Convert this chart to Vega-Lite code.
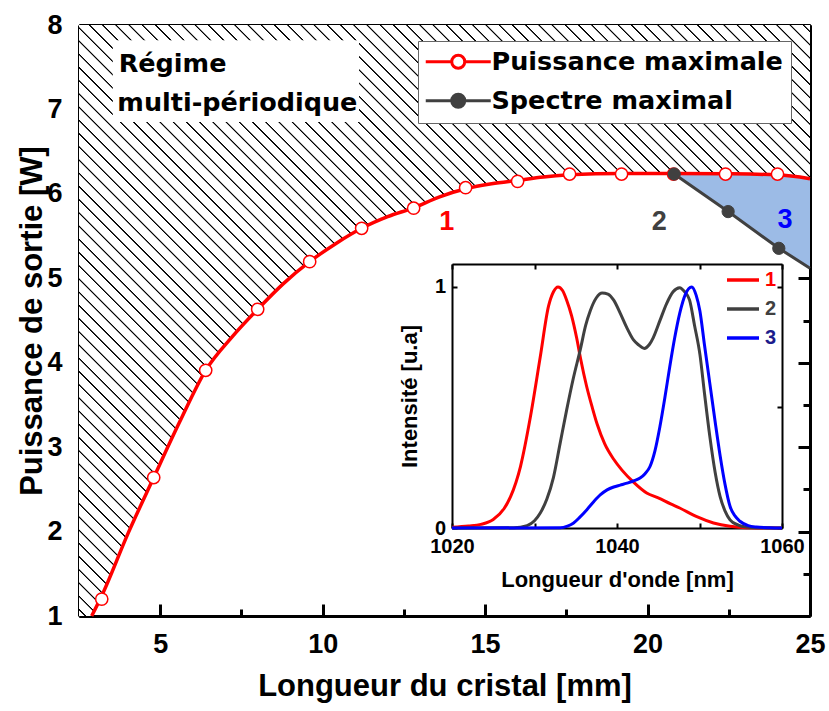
{
"$schema": "https://vega.github.io/schema/vega-lite/v6.json",
"width": 731, "height": 591,
"autosize": {"type": "none"},
"padding": {"left": 79, "top": 25, "right": 19, "bottom": 95},
"background": "white",
"config": {
  "view": {"stroke": null},
  "axis": {"domainColor": "#000", "tickColor": "#000", "labelColor": "#000", "titleColor": "#000", "grid": false, "labelFont": "Liberation Sans", "labelFontWeight": "bold", "titleFont": "Liberation Sans", "titleFontWeight": "bold", "labelFlush": false, "labelOverlap": false, "zindex": 1}
},
"datasets": {
  "hatch": [{"x":2.5,"y":1},{"x":2.89,"y":1.0},{"x":3.2,"y":1.24},{"x":4.0,"y":1.97},{"x":4.8,"y":2.64},{"x":5.6,"y":3.3},{"x":6.4,"y":3.91},{"x":7.2,"y":4.3},{"x":8.0,"y":4.633},{"x":8.8,"y":4.94},{"x":9.6,"y":5.197},{"x":10.4,"y":5.41},{"x":11.2,"y":5.592},{"x":12.0,"y":5.73},{"x":12.8,"y":5.835},{"x":13.6,"y":5.965},{"x":14.4,"y":6.06},{"x":15.2,"y":6.12},{"x":16.0,"y":6.16},{"x":16.8,"y":6.2},{"x":17.6,"y":6.225},{"x":18.4,"y":6.238},{"x":19.2,"y":6.242},{"x":20.8,"y":6.242},{"x":22.4,"y":6.238},{"x":24.0,"y":6.225},{"x":25.0,"y":6.18}],
  "curve": [{"x":2.89,"y":1.0,"series":"Puissance maximale"},{"x":3.2,"y":1.24,"series":"Puissance maximale"},{"x":4.0,"y":1.97,"series":"Puissance maximale"},{"x":4.8,"y":2.64,"series":"Puissance maximale"},{"x":5.6,"y":3.3,"series":"Puissance maximale"},{"x":6.4,"y":3.91,"series":"Puissance maximale"},{"x":7.2,"y":4.3,"series":"Puissance maximale"},{"x":8.0,"y":4.633,"series":"Puissance maximale"},{"x":8.8,"y":4.94,"series":"Puissance maximale"},{"x":9.6,"y":5.197,"series":"Puissance maximale"},{"x":10.4,"y":5.41,"series":"Puissance maximale"},{"x":11.2,"y":5.592,"series":"Puissance maximale"},{"x":12.0,"y":5.73,"series":"Puissance maximale"},{"x":12.8,"y":5.835,"series":"Puissance maximale"},{"x":13.6,"y":5.965,"series":"Puissance maximale"},{"x":14.4,"y":6.06,"series":"Puissance maximale"},{"x":15.2,"y":6.12,"series":"Puissance maximale"},{"x":16.0,"y":6.16,"series":"Puissance maximale"},{"x":16.8,"y":6.2,"series":"Puissance maximale"},{"x":17.6,"y":6.225,"series":"Puissance maximale"},{"x":18.4,"y":6.238,"series":"Puissance maximale"},{"x":19.2,"y":6.242,"series":"Puissance maximale"},{"x":20.8,"y":6.242,"series":"Puissance maximale"},{"x":22.4,"y":6.238,"series":"Puissance maximale"},{"x":24.0,"y":6.225,"series":"Puissance maximale"},{"x":25.0,"y":6.18,"series":"Puissance maximale"}],
  "pts": [{"x":3.2,"y":1.2},{"x":4.8,"y":2.64},{"x":6.4,"y":3.91},{"x":8.0,"y":4.633},{"x":9.6,"y":5.197},{"x":11.2,"y":5.592},{"x":12.8,"y":5.83},{"x":14.4,"y":6.073},{"x":16.0,"y":6.148},{"x":17.6,"y":6.235},{"x":19.2,"y":6.235},{"x":20.8,"y":6.235},{"x":22.4,"y":6.235},{"x":24.0,"y":6.235}],
  "gray": [{"x":20.82,"y":6.235,"series":"Spectre maximal"},{"x":22.48,"y":5.79,"series":"Spectre maximal"},{"x":24.04,"y":5.355,"series":"Spectre maximal"},{"x":25.0,"y":5.12,"series":"Spectre maximal"}],
  "blue": [{"x":20.82,"y":6.235,"y2":6.24},{"x":22.48,"y":5.79,"y2":6.238},{"x":24.04,"y":5.355,"y2":6.225},{"x":25.0,"y":5.12,"y2":6.18}],
  "box": [{"x":3.54,"x2":11.12,"y":6.85,"y2":7.82}],
  "notes": [{"label":"Régime","x":3.72,"y":7.447},{"label":"multi-périodique","x":3.68,"y":6.98}],
  "nums": [{"label":"1","x":13.82,"y":5.67},{"label":"2","x":20.36,"y":5.67},{"label":"3","x":24.23,"y":5.69}],
  "anchor": [{"x":10,"y":5}],
  "anchor2": [{"wl":1040,"I":0.5}],
  "spec": [
    {"wl":1020,"I":0.003,"curve":"1"},{"wl":1022,"I":0.008,"curve":"1"},{"wl":1023.5,"I":0.015,"curve":"1"},{"wl":1025,"I":0.035,"curve":"1"},{"wl":1026.3,"I":0.08,"curve":"1"},{"wl":1027.1,"I":0.13,"curve":"1"},{"wl":1028.3,"I":0.255,"curve":"1"},{"wl":1029.5,"I":0.46,"curve":"1"},{"wl":1030.7,"I":0.71,"curve":"1"},{"wl":1031.7,"I":0.92,"curve":"1"},{"wl":1032.3,"I":0.98,"curve":"1"},{"wl":1032.85,"I":1.0,"curve":"1"},{"wl":1033.4,"I":0.985,"curve":"1"},{"wl":1033.9,"I":0.945,"curve":"1"},{"wl":1034.5,"I":0.88,"curve":"1"},{"wl":1035.1,"I":0.79,"curve":"1"},{"wl":1035.6,"I":0.7,"curve":"1"},{"wl":1036.3,"I":0.59,"curve":"1"},{"wl":1037.0,"I":0.5,"curve":"1"},{"wl":1037.6,"I":0.43,"curve":"1"},{"wl":1038.5,"I":0.35,"curve":"1"},{"wl":1039.6,"I":0.285,"curve":"1"},{"wl":1040.6,"I":0.24,"curve":"1"},{"wl":1042.0,"I":0.19,"curve":"1"},{"wl":1043.6,"I":0.145,"curve":"1"},{"wl":1045.0,"I":0.125,"curve":"1"},{"wl":1046.5,"I":0.1,"curve":"1"},{"wl":1047.6,"I":0.083,"curve":"1"},{"wl":1049.6,"I":0.048,"curve":"1"},{"wl":1051.7,"I":0.021,"curve":"1"},{"wl":1053.7,"I":0.007,"curve":"1"},{"wl":1055.7,"I":0.001,"curve":"1"},{"wl":1060,"I":0,"curve":"1"},
    {"wl":1020,"I":0,"curve":"2"},{"wl":1027.5,"I":0.001,"curve":"2"},{"wl":1029.1,"I":0.01,"curve":"2"},{"wl":1030,"I":0.03,"curve":"2"},{"wl":1030.7,"I":0.062,"curve":"2"},{"wl":1031.5,"I":0.12,"curve":"2"},{"wl":1032.3,"I":0.21,"curve":"2"},{"wl":1033.1,"I":0.35,"curve":"2"},{"wl":1033.9,"I":0.49,"curve":"2"},{"wl":1034.7,"I":0.62,"curve":"2"},{"wl":1035.55,"I":0.74,"curve":"2"},{"wl":1036.2,"I":0.84,"curve":"2"},{"wl":1036.75,"I":0.9,"curve":"2"},{"wl":1037.5,"I":0.955,"curve":"2"},{"wl":1038.2,"I":0.975,"curve":"2"},{"wl":1038.9,"I":0.97,"curve":"2"},{"wl":1039.6,"I":0.945,"curve":"2"},{"wl":1040.4,"I":0.89,"curve":"2"},{"wl":1041.2,"I":0.83,"curve":"2"},{"wl":1042.0,"I":0.78,"curve":"2"},{"wl":1042.6,"I":0.76,"curve":"2"},{"wl":1043.3,"I":0.745,"curve":"2"},{"wl":1043.9,"I":0.76,"curve":"2"},{"wl":1044.4,"I":0.79,"curve":"2"},{"wl":1045.2,"I":0.86,"curve":"2"},{"wl":1046.0,"I":0.93,"curve":"2"},{"wl":1046.8,"I":0.98,"curve":"2"},{"wl":1047.6,"I":0.997,"curve":"2"},{"wl":1048.2,"I":0.98,"curve":"2"},{"wl":1048.8,"I":0.945,"curve":"2"},{"wl":1049.4,"I":0.84,"curve":"2"},{"wl":1050.05,"I":0.72,"curve":"2"},{"wl":1050.6,"I":0.56,"curve":"2"},{"wl":1051.25,"I":0.38,"curve":"2"},{"wl":1051.9,"I":0.23,"curve":"2"},{"wl":1052.5,"I":0.13,"curve":"2"},{"wl":1053.1,"I":0.07,"curve":"2"},{"wl":1053.7,"I":0.034,"curve":"2"},{"wl":1054.7,"I":0.012,"curve":"2"},{"wl":1055.7,"I":0.004,"curve":"2"},{"wl":1057,"I":0.001,"curve":"2"},{"wl":1060,"I":0,"curve":"2"},
    {"wl":1020,"I":0,"curve":"3"},{"wl":1033.1,"I":0.001,"curve":"3"},{"wl":1034,"I":0.008,"curve":"3"},{"wl":1034.7,"I":0.02,"curve":"3"},{"wl":1035.5,"I":0.045,"curve":"3"},{"wl":1036.35,"I":0.076,"curve":"3"},{"wl":1037.2,"I":0.11,"curve":"3"},{"wl":1038.0,"I":0.138,"curve":"3"},{"wl":1038.8,"I":0.158,"curve":"3"},{"wl":1039.6,"I":0.17,"curve":"3"},{"wl":1040.4,"I":0.178,"curve":"3"},{"wl":1041.2,"I":0.186,"curve":"3"},{"wl":1042.0,"I":0.195,"curve":"3"},{"wl":1042.8,"I":0.207,"curve":"3"},{"wl":1043.4,"I":0.225,"curve":"3"},{"wl":1044.0,"I":0.255,"curve":"3"},{"wl":1044.6,"I":0.32,"curve":"3"},{"wl":1045.2,"I":0.42,"curve":"3"},{"wl":1045.8,"I":0.54,"curve":"3"},{"wl":1046.4,"I":0.67,"curve":"3"},{"wl":1047.0,"I":0.79,"curve":"3"},{"wl":1047.6,"I":0.89,"curve":"3"},{"wl":1048.3,"I":0.97,"curve":"3"},{"wl":1049.05,"I":1.0,"curve":"3"},{"wl":1049.6,"I":0.965,"curve":"3"},{"wl":1050.05,"I":0.9,"curve":"3"},{"wl":1050.6,"I":0.76,"curve":"3"},{"wl":1051.25,"I":0.6,"curve":"3"},{"wl":1051.9,"I":0.44,"curve":"3"},{"wl":1052.5,"I":0.3,"curve":"3"},{"wl":1053.1,"I":0.18,"curve":"3"},{"wl":1053.7,"I":0.09,"curve":"3"},{"wl":1054.3,"I":0.05,"curve":"3"},{"wl":1054.9,"I":0.028,"curve":"3"},{"wl":1055.9,"I":0.01,"curve":"3"},{"wl":1056.9,"I":0.004,"curve":"3"},{"wl":1058.5,"I":0.001,"curve":"3"},{"wl":1060,"I":0,"curve":"3"}
  ]
},
"layer": [
  {
    "encoding": {
      "x": {"field": "x", "type": "quantitative", "scale": {"domain": [2.5, 25], "nice": false, "zero": false},
        "axis": {"orient": "bottom", "title": "Longueur du cristal [mm]", "values": [5,10,15,20,25], "format": "d", "tickSize": -12, "tickWidth": 3, "domainWidth": 3, "labelFontSize": 27, "labelPadding": 27, "titleFontSize": 31, "titlePadding": 14}},
      "y": {"field": "y", "type": "quantitative", "scale": {"domain": [1, 8], "nice": false, "zero": false},
        "axis": {"orient": "left", "title": "Puissance de sortie [W]", "values": [1,2,3,4,5,6,7,8], "format": "d", "tickSize": -12, "tickWidth": 3, "domainWidth": 3, "labelFontSize": 27, "labelPadding": 29, "titleFontSize": 31, "titlePadding": -2}}
    },
    "layer": [
      {"data": {"name": "hatch"},
       "mark": {"type": "area", "fill": {"gradient": "linear", "x1": 0, "y1": 1, "x2": 1.0936, "y2": 0.1158, "stops": [
{"offset":0.004,"color":"#fff"},{"offset":0.0046,"color":"#000"},{"offset":0.0053,"color":"#000"},{"offset":0.0059,"color":"#fff"},
{"offset":0.014,"color":"#fff"},{"offset":0.0146,"color":"#000"},{"offset":0.0153,"color":"#000"},{"offset":0.0159,"color":"#fff"},
{"offset":0.024,"color":"#fff"},{"offset":0.0246,"color":"#000"},{"offset":0.0253,"color":"#000"},{"offset":0.0259,"color":"#fff"},
{"offset":0.034,"color":"#fff"},{"offset":0.0346,"color":"#000"},{"offset":0.0353,"color":"#000"},{"offset":0.0359,"color":"#fff"},
{"offset":0.044,"color":"#fff"},{"offset":0.0446,"color":"#000"},{"offset":0.0453,"color":"#000"},{"offset":0.0459,"color":"#fff"},
{"offset":0.054,"color":"#fff"},{"offset":0.0546,"color":"#000"},{"offset":0.0553,"color":"#000"},{"offset":0.0559,"color":"#fff"},
{"offset":0.064,"color":"#fff"},{"offset":0.0646,"color":"#000"},{"offset":0.0653,"color":"#000"},{"offset":0.0659,"color":"#fff"},
{"offset":0.074,"color":"#fff"},{"offset":0.0746,"color":"#000"},{"offset":0.0753,"color":"#000"},{"offset":0.0759,"color":"#fff"},
{"offset":0.084,"color":"#fff"},{"offset":0.0846,"color":"#000"},{"offset":0.0853,"color":"#000"},{"offset":0.0859,"color":"#fff"},
{"offset":0.094,"color":"#fff"},{"offset":0.0946,"color":"#000"},{"offset":0.0953,"color":"#000"},{"offset":0.0959,"color":"#fff"},
{"offset":0.104,"color":"#fff"},{"offset":0.1046,"color":"#000"},{"offset":0.1053,"color":"#000"},{"offset":0.1059,"color":"#fff"},
{"offset":0.114,"color":"#fff"},{"offset":0.1146,"color":"#000"},{"offset":0.1153,"color":"#000"},{"offset":0.1159,"color":"#fff"},
{"offset":0.124,"color":"#fff"},{"offset":0.1246,"color":"#000"},{"offset":0.1253,"color":"#000"},{"offset":0.1259,"color":"#fff"},
{"offset":0.134,"color":"#fff"},{"offset":0.1346,"color":"#000"},{"offset":0.1353,"color":"#000"},{"offset":0.1359,"color":"#fff"},
{"offset":0.144,"color":"#fff"},{"offset":0.1446,"color":"#000"},{"offset":0.1453,"color":"#000"},{"offset":0.1459,"color":"#fff"},
{"offset":0.154,"color":"#fff"},{"offset":0.1546,"color":"#000"},{"offset":0.1553,"color":"#000"},{"offset":0.1559,"color":"#fff"},
{"offset":0.164,"color":"#fff"},{"offset":0.1646,"color":"#000"},{"offset":0.1653,"color":"#000"},{"offset":0.1659,"color":"#fff"},
{"offset":0.174,"color":"#fff"},{"offset":0.1746,"color":"#000"},{"offset":0.1753,"color":"#000"},{"offset":0.1759,"color":"#fff"},
{"offset":0.184,"color":"#fff"},{"offset":0.1846,"color":"#000"},{"offset":0.1853,"color":"#000"},{"offset":0.1859,"color":"#fff"},
{"offset":0.194,"color":"#fff"},{"offset":0.1946,"color":"#000"},{"offset":0.1953,"color":"#000"},{"offset":0.1959,"color":"#fff"},
{"offset":0.204,"color":"#fff"},{"offset":0.2046,"color":"#000"},{"offset":0.2053,"color":"#000"},{"offset":0.2059,"color":"#fff"},
{"offset":0.214,"color":"#fff"},{"offset":0.2146,"color":"#000"},{"offset":0.2153,"color":"#000"},{"offset":0.2159,"color":"#fff"},
{"offset":0.224,"color":"#fff"},{"offset":0.2246,"color":"#000"},{"offset":0.2253,"color":"#000"},{"offset":0.2259,"color":"#fff"},
{"offset":0.234,"color":"#fff"},{"offset":0.2346,"color":"#000"},{"offset":0.2353,"color":"#000"},{"offset":0.2359,"color":"#fff"},
{"offset":0.244,"color":"#fff"},{"offset":0.2446,"color":"#000"},{"offset":0.2453,"color":"#000"},{"offset":0.2459,"color":"#fff"},
{"offset":0.254,"color":"#fff"},{"offset":0.2546,"color":"#000"},{"offset":0.2553,"color":"#000"},{"offset":0.2559,"color":"#fff"},
{"offset":0.264,"color":"#fff"},{"offset":0.2646,"color":"#000"},{"offset":0.2653,"color":"#000"},{"offset":0.2659,"color":"#fff"},
{"offset":0.274,"color":"#fff"},{"offset":0.2746,"color":"#000"},{"offset":0.2753,"color":"#000"},{"offset":0.2759,"color":"#fff"},
{"offset":0.284,"color":"#fff"},{"offset":0.2846,"color":"#000"},{"offset":0.2853,"color":"#000"},{"offset":0.2859,"color":"#fff"},
{"offset":0.294,"color":"#fff"},{"offset":0.2946,"color":"#000"},{"offset":0.2953,"color":"#000"},{"offset":0.2959,"color":"#fff"},
{"offset":0.304,"color":"#fff"},{"offset":0.3046,"color":"#000"},{"offset":0.3053,"color":"#000"},{"offset":0.3059,"color":"#fff"},
{"offset":0.314,"color":"#fff"},{"offset":0.3146,"color":"#000"},{"offset":0.3153,"color":"#000"},{"offset":0.3159,"color":"#fff"},
{"offset":0.324,"color":"#fff"},{"offset":0.3246,"color":"#000"},{"offset":0.3253,"color":"#000"},{"offset":0.3259,"color":"#fff"},
{"offset":0.334,"color":"#fff"},{"offset":0.3346,"color":"#000"},{"offset":0.3353,"color":"#000"},{"offset":0.3359,"color":"#fff"},
{"offset":0.344,"color":"#fff"},{"offset":0.3446,"color":"#000"},{"offset":0.3453,"color":"#000"},{"offset":0.3459,"color":"#fff"},
{"offset":0.354,"color":"#fff"},{"offset":0.3546,"color":"#000"},{"offset":0.3553,"color":"#000"},{"offset":0.3559,"color":"#fff"},
{"offset":0.364,"color":"#fff"},{"offset":0.3646,"color":"#000"},{"offset":0.3653,"color":"#000"},{"offset":0.3659,"color":"#fff"},
{"offset":0.374,"color":"#fff"},{"offset":0.3746,"color":"#000"},{"offset":0.3753,"color":"#000"},{"offset":0.3759,"color":"#fff"},
{"offset":0.384,"color":"#fff"},{"offset":0.3846,"color":"#000"},{"offset":0.3853,"color":"#000"},{"offset":0.3859,"color":"#fff"},
{"offset":0.394,"color":"#fff"},{"offset":0.3946,"color":"#000"},{"offset":0.3953,"color":"#000"},{"offset":0.3959,"color":"#fff"},
{"offset":0.404,"color":"#fff"},{"offset":0.4046,"color":"#000"},{"offset":0.4053,"color":"#000"},{"offset":0.4059,"color":"#fff"},
{"offset":0.414,"color":"#fff"},{"offset":0.4146,"color":"#000"},{"offset":0.4153,"color":"#000"},{"offset":0.4159,"color":"#fff"},
{"offset":0.424,"color":"#fff"},{"offset":0.4246,"color":"#000"},{"offset":0.4253,"color":"#000"},{"offset":0.4259,"color":"#fff"},
{"offset":0.434,"color":"#fff"},{"offset":0.4346,"color":"#000"},{"offset":0.4353,"color":"#000"},{"offset":0.4359,"color":"#fff"},
{"offset":0.444,"color":"#fff"},{"offset":0.4446,"color":"#000"},{"offset":0.4453,"color":"#000"},{"offset":0.4459,"color":"#fff"},
{"offset":0.454,"color":"#fff"},{"offset":0.4546,"color":"#000"},{"offset":0.4553,"color":"#000"},{"offset":0.4559,"color":"#fff"},
{"offset":0.464,"color":"#fff"},{"offset":0.4646,"color":"#000"},{"offset":0.4653,"color":"#000"},{"offset":0.4659,"color":"#fff"},
{"offset":0.474,"color":"#fff"},{"offset":0.4746,"color":"#000"},{"offset":0.4753,"color":"#000"},{"offset":0.4759,"color":"#fff"},
{"offset":0.484,"color":"#fff"},{"offset":0.4846,"color":"#000"},{"offset":0.4853,"color":"#000"},{"offset":0.4859,"color":"#fff"},
{"offset":0.494,"color":"#fff"},{"offset":0.4946,"color":"#000"},{"offset":0.4953,"color":"#000"},{"offset":0.4959,"color":"#fff"},
{"offset":0.504,"color":"#fff"},{"offset":0.5046,"color":"#000"},{"offset":0.5053,"color":"#000"},{"offset":0.5059,"color":"#fff"},
{"offset":0.514,"color":"#fff"},{"offset":0.5146,"color":"#000"},{"offset":0.5153,"color":"#000"},{"offset":0.5159,"color":"#fff"},
{"offset":0.524,"color":"#fff"},{"offset":0.5246,"color":"#000"},{"offset":0.5253,"color":"#000"},{"offset":0.5259,"color":"#fff"},
{"offset":0.534,"color":"#fff"},{"offset":0.5346,"color":"#000"},{"offset":0.5353,"color":"#000"},{"offset":0.5359,"color":"#fff"},
{"offset":0.544,"color":"#fff"},{"offset":0.5446,"color":"#000"},{"offset":0.5453,"color":"#000"},{"offset":0.5459,"color":"#fff"},
{"offset":0.554,"color":"#fff"},{"offset":0.5546,"color":"#000"},{"offset":0.5553,"color":"#000"},{"offset":0.5559,"color":"#fff"},
{"offset":0.564,"color":"#fff"},{"offset":0.5646,"color":"#000"},{"offset":0.5653,"color":"#000"},{"offset":0.5659,"color":"#fff"},
{"offset":0.574,"color":"#fff"},{"offset":0.5746,"color":"#000"},{"offset":0.5753,"color":"#000"},{"offset":0.5759,"color":"#fff"},
{"offset":0.584,"color":"#fff"},{"offset":0.5846,"color":"#000"},{"offset":0.5853,"color":"#000"},{"offset":0.5859,"color":"#fff"},
{"offset":0.594,"color":"#fff"},{"offset":0.5946,"color":"#000"},{"offset":0.5953,"color":"#000"},{"offset":0.5959,"color":"#fff"},
{"offset":0.604,"color":"#fff"},{"offset":0.6046,"color":"#000"},{"offset":0.6053,"color":"#000"},{"offset":0.6059,"color":"#fff"},
{"offset":0.614,"color":"#fff"},{"offset":0.6146,"color":"#000"},{"offset":0.6153,"color":"#000"},{"offset":0.6159,"color":"#fff"},
{"offset":0.624,"color":"#fff"},{"offset":0.6246,"color":"#000"},{"offset":0.6253,"color":"#000"},{"offset":0.6259,"color":"#fff"},
{"offset":0.634,"color":"#fff"},{"offset":0.6346,"color":"#000"},{"offset":0.6353,"color":"#000"},{"offset":0.6359,"color":"#fff"},
{"offset":0.644,"color":"#fff"},{"offset":0.6446,"color":"#000"},{"offset":0.6453,"color":"#000"},{"offset":0.6459,"color":"#fff"},
{"offset":0.654,"color":"#fff"},{"offset":0.6546,"color":"#000"},{"offset":0.6553,"color":"#000"},{"offset":0.6559,"color":"#fff"},
{"offset":0.664,"color":"#fff"},{"offset":0.6646,"color":"#000"},{"offset":0.6653,"color":"#000"},{"offset":0.6659,"color":"#fff"},
{"offset":0.674,"color":"#fff"},{"offset":0.6746,"color":"#000"},{"offset":0.6753,"color":"#000"},{"offset":0.6759,"color":"#fff"},
{"offset":0.684,"color":"#fff"},{"offset":0.6846,"color":"#000"},{"offset":0.6853,"color":"#000"},{"offset":0.6859,"color":"#fff"},
{"offset":0.694,"color":"#fff"},{"offset":0.6946,"color":"#000"},{"offset":0.6953,"color":"#000"},{"offset":0.6959,"color":"#fff"},
{"offset":0.704,"color":"#fff"},{"offset":0.7046,"color":"#000"},{"offset":0.7053,"color":"#000"},{"offset":0.7059,"color":"#fff"},
{"offset":0.714,"color":"#fff"},{"offset":0.7146,"color":"#000"},{"offset":0.7153,"color":"#000"},{"offset":0.7159,"color":"#fff"},
{"offset":0.724,"color":"#fff"},{"offset":0.7246,"color":"#000"},{"offset":0.7253,"color":"#000"},{"offset":0.7259,"color":"#fff"},
{"offset":0.734,"color":"#fff"},{"offset":0.7346,"color":"#000"},{"offset":0.7353,"color":"#000"},{"offset":0.7359,"color":"#fff"},
{"offset":0.744,"color":"#fff"},{"offset":0.7446,"color":"#000"},{"offset":0.7453,"color":"#000"},{"offset":0.7459,"color":"#fff"},
{"offset":0.754,"color":"#fff"},{"offset":0.7546,"color":"#000"},{"offset":0.7553,"color":"#000"},{"offset":0.7559,"color":"#fff"},
{"offset":0.764,"color":"#fff"},{"offset":0.7646,"color":"#000"},{"offset":0.7653,"color":"#000"},{"offset":0.7659,"color":"#fff"},
{"offset":0.774,"color":"#fff"},{"offset":0.7746,"color":"#000"},{"offset":0.7753,"color":"#000"},{"offset":0.7759,"color":"#fff"},
{"offset":0.784,"color":"#fff"},{"offset":0.7846,"color":"#000"},{"offset":0.7853,"color":"#000"},{"offset":0.7859,"color":"#fff"},
{"offset":0.794,"color":"#fff"},{"offset":0.7946,"color":"#000"},{"offset":0.7953,"color":"#000"},{"offset":0.7959,"color":"#fff"},
{"offset":0.804,"color":"#fff"},{"offset":0.8046,"color":"#000"},{"offset":0.8053,"color":"#000"},{"offset":0.8059,"color":"#fff"},
{"offset":0.814,"color":"#fff"},{"offset":0.8146,"color":"#000"},{"offset":0.8153,"color":"#000"},{"offset":0.8159,"color":"#fff"},
{"offset":0.824,"color":"#fff"},{"offset":0.8246,"color":"#000"},{"offset":0.8253,"color":"#000"},{"offset":0.8259,"color":"#fff"},
{"offset":0.834,"color":"#fff"},{"offset":0.8346,"color":"#000"},{"offset":0.8353,"color":"#000"},{"offset":0.8359,"color":"#fff"},
{"offset":0.844,"color":"#fff"},{"offset":0.8446,"color":"#000"},{"offset":0.8453,"color":"#000"},{"offset":0.8459,"color":"#fff"},
{"offset":0.854,"color":"#fff"},{"offset":0.8546,"color":"#000"},{"offset":0.8553,"color":"#000"},{"offset":0.8559,"color":"#fff"},
{"offset":0.864,"color":"#fff"},{"offset":0.8646,"color":"#000"},{"offset":0.8653,"color":"#000"},{"offset":0.8659,"color":"#fff"},
{"offset":0.874,"color":"#fff"},{"offset":0.8746,"color":"#000"},{"offset":0.8753,"color":"#000"},{"offset":0.8759,"color":"#fff"},
{"offset":0.884,"color":"#fff"},{"offset":0.8846,"color":"#000"},{"offset":0.8853,"color":"#000"},{"offset":0.8859,"color":"#fff"},
{"offset":0.894,"color":"#fff"},{"offset":0.8946,"color":"#000"},{"offset":0.8953,"color":"#000"},{"offset":0.8959,"color":"#fff"},
{"offset":0.904,"color":"#fff"},{"offset":0.9046,"color":"#000"},{"offset":0.9053,"color":"#000"},{"offset":0.9059,"color":"#fff"},
{"offset":0.914,"color":"#fff"},{"offset":0.9146,"color":"#000"},{"offset":0.9153,"color":"#000"},{"offset":0.9159,"color":"#fff"},
{"offset":0.924,"color":"#fff"},{"offset":0.9246,"color":"#000"},{"offset":0.9253,"color":"#000"},{"offset":0.9259,"color":"#fff"},
{"offset":0.934,"color":"#fff"},{"offset":0.9346,"color":"#000"},{"offset":0.9353,"color":"#000"},{"offset":0.9359,"color":"#fff"},
{"offset":0.944,"color":"#fff"},{"offset":0.9446,"color":"#000"},{"offset":0.9453,"color":"#000"},{"offset":0.9459,"color":"#fff"},
{"offset":0.954,"color":"#fff"},{"offset":0.9546,"color":"#000"},{"offset":0.9553,"color":"#000"},{"offset":0.9559,"color":"#fff"},
{"offset":0.964,"color":"#fff"},{"offset":0.9646,"color":"#000"},{"offset":0.9653,"color":"#000"},{"offset":0.9659,"color":"#fff"},
{"offset":0.974,"color":"#fff"},{"offset":0.9746,"color":"#000"},{"offset":0.9753,"color":"#000"},{"offset":0.9759,"color":"#fff"},
{"offset":0.984,"color":"#fff"},{"offset":0.9846,"color":"#000"},{"offset":0.9853,"color":"#000"},{"offset":0.9859,"color":"#fff"},
{"offset":0.994,"color":"#fff"},{"offset":0.9946,"color":"#000"},{"offset":0.9953,"color":"#000"},{"offset":0.9959,"color":"#fff"}
       ]}},
       "encoding": {"y2": {"datum": 8}}},
      {"data": {"name": "blue"}, "mark": {"type": "area", "fill": "#9cbbe6"}, "encoding": {"y2": {"field": "y2"}}},
      {"data": {"name": "box"}, "mark": {"type": "rect", "fill": "#ffffff"}, "encoding": {"x2": {"field": "x2"}, "y2": {"field": "y2"}}},
      {"data": {"name": "curve"}, "mark": {"type": "line", "strokeWidth": 3.5, "interpolate": "monotone"},
       "encoding": {"color": {"field": "series", "type": "nominal", "scale": {"domain": ["Puissance maximale", "Spectre maximal"], "range": ["#ff0000", "#404040"]},
         "legend": {"orient": "none", "legendX": 339, "legendY": 16, "title": null,
           "symbolType": "M-2,0H2M4,0H8M2,0A1,1,0,1,1,4,0A1,1,0,1,1,2,0", "symbolSize": 169, "symbolStrokeWidth": 3,
           "labelFont": "DejaVu Sans", "labelFontWeight": "bold", "labelFontSize": 25.5, "labelColor": "#000", "labelLimit": 500, "labelOffset": 40,
           "fillColor": "#ffffff", "strokeColor": "#666666", "padding": 8, "rowPadding": 12,
           "encode": {"symbols": {"update": {"fill": {"signal": "datum.value === 'Puissance maximale' ? '#ffffff' : '#404040'"}, "stroke": {"signal": "datum.value === 'Puissance maximale' ? '#ff0000' : '#404040'"}, "opacity": {"value": 1}}}}}}}},
      {"data": {"name": "gray"}, "mark": {"type": "line", "strokeWidth": 3},
       "encoding": {"color": {"field": "series", "type": "nominal"}}},
      {"data": {"name": "pts"}, "mark": {"type": "point", "shape": "circle", "filled": true, "fill": "#ffffff", "stroke": "#ff0000", "strokeWidth": 1.5, "size": 150, "opacity": 1}},
      {"data": {"name": "gray"}, "transform": [{"filter": "datum.x < 24.5"}], "mark": {"type": "point", "shape": "circle", "filled": true, "fill": "#404040", "stroke": "#404040", "strokeWidth": 1, "size": 150, "opacity": 1}},
      {"data": {"name": "notes"}, "mark": {"type": "text", "align": "left", "baseline": "alphabetic", "font": "DejaVu Sans", "fontWeight": "bold", "fontSize": 25.5, "fill": "#000"}, "encoding": {"text": {"field": "label"}}},
      {"data": {"name": "nums"}, "mark": {"type": "text", "align": "center", "baseline": "middle", "font": "Liberation Sans", "fontWeight": "bold", "fontSize": 27},
       "encoding": {"text": {"field": "label"}, "fill": {"field": "label", "type": "nominal", "scale": {"domain": ["1", "2", "3"], "range": ["#ff0000", "#404040", "#0000ff"]}, "legend": null}}}
    ]
  },
  {
    "data": {"name": "anchor"},
    "mark": {"type": "point", "opacity": 0},
    "encoding": {
      "x": {"field": "x", "type": "quantitative", "scale": {"domain": [2.5, 25], "nice": false, "zero": false},
        "axis": {"orient": "top", "title": null, "labels": false, "values": [5,10,15,20,25], "tickSize": -12, "tickWidth": 3, "domainWidth": 3}},
      "y": {"field": "y", "type": "quantitative", "scale": {"domain": [1, 8], "nice": false, "zero": false},
        "axis": {"orient": "right", "title": null, "labels": false, "values": [1,2,3,4,5,6,7,8], "tickSize": -12, "tickWidth": 3, "domainWidth": 3}}
    }
  },
  {
    "data": {"name": "anchor"},
    "mark": {"type": "point", "opacity": 0},
    "encoding": {
      "x": {"field": "x", "type": "quantitative", "scale": {"domain": [2.5, 25], "nice": false, "zero": false},
        "axis": {"orient": "bottom", "title": null, "labels": false, "domain": false, "values": [7.5,12.5,17.5,22.5], "tickSize": -7, "tickWidth": 3}},
      "y": {"field": "y", "type": "quantitative", "scale": {"domain": [1, 8], "nice": false, "zero": false},
        "axis": {"orient": "left", "title": null, "labels": false, "domain": false, "values": [1.5,2.5,3.5,4.5,5.5,6.5,7.5], "tickSize": -7, "tickWidth": 3}}
    }
  },
  {
    "data": {"name": "anchor"},
    "mark": {"type": "point", "opacity": 0},
    "encoding": {
      "x": {"field": "x", "type": "quantitative", "scale": {"domain": [2.5, 25], "nice": false, "zero": false},
        "axis": {"orient": "top", "title": null, "labels": false, "domain": false, "values": [7.5,12.5,17.5,22.5], "tickSize": -7, "tickWidth": 3}},
      "y": {"field": "y", "type": "quantitative", "scale": {"domain": [1, 8], "nice": false, "zero": false},
        "axis": {"orient": "right", "title": null, "labels": false, "domain": false, "values": [1.5,2.5,3.5,4.5,5.5,6.5,7.5], "tickSize": -7, "tickWidth": 3}}
    }
  },
  {
    "data": {"name": "spec"},
    "mark": {"type": "line", "strokeWidth": 3, "interpolate": "monotone"},
    "encoding": {
      "x": {"field": "wl", "type": "quantitative", "scale": {"domain": [1020, 1060], "range": [373, 703], "nice": false, "zero": false},
        "axis": {"orient": "bottom", "offset": -88, "title": "Longueur d'onde [nm]", "values": [1020,1030,1040,1050,1060], "format": "d", "labelExpr": "datum.value % 20 === 0 ? datum.label : ''", "tickSize": -5, "tickWidth": 2, "domainWidth": 2, "labelFontSize": 20, "labelPadding": 13.5, "titleFontSize": 22, "titlePadding": 13}},
      "y": {"field": "I", "type": "quantitative", "scale": {"domain": [0, 1.095], "range": [503, 239], "nice": false, "zero": false},
        "axis": {"orient": "left", "offset": -373, "title": "Intensité [u.a]", "values": [0, 0.5, 1], "format": "d", "labelExpr": "datum.value % 1 === 0 ? datum.label : ''", "tickSize": -5, "tickWidth": 2, "domainWidth": 2, "labelFontSize": 20, "labelPadding": 11.5, "titleFontSize": 22, "titlePadding": 13}},
      "color": {"field": "curve", "type": "nominal", "scale": {"domain": ["1", "2", "3"], "range": ["#ff0000", "#404040", "#0000ff"]},
        "legend": {"orient": "none", "legendX": 646, "legendY": 237, "title": null, "symbolType": "stroke", "symbolSize": 1024, "symbolStrokeWidth": 3.5,
          "labelFont": "Liberation Sans", "labelFontWeight": "bold", "labelFontSize": 20, "labelOffset": 4, "rowPadding": 1, "padding": 0,
          "encode": {"labels": {"update": {"fill": {"signal": "datum.value === '1' ? '#ff0000' : datum.value === '2' ? '#404040' : '#1c1c8c'"}}}}}}
    }
  },
  {
    "data": {"name": "anchor2"},
    "mark": {"type": "point", "opacity": 0},
    "encoding": {
      "x": {"field": "wl", "type": "quantitative", "scale": {"domain": [1020, 1060], "range": [373, 703], "nice": false, "zero": false},
        "axis": {"orient": "top", "offset": -239, "title": null, "labels": false, "values": [1020,1030,1040,1050,1060], "tickSize": -5, "tickWidth": 2, "domainWidth": 2}},
      "y": {"field": "I", "type": "quantitative", "scale": {"domain": [0, 1.095], "range": [503, 239], "nice": false, "zero": false},
        "axis": {"orient": "right", "offset": -28, "title": null, "labels": false, "values": [0, 0.5, 1], "tickSize": -5, "tickWidth": 2, "domainWidth": 2}}
    }
  }
],
"resolve": {"scale": {"x": "independent", "y": "independent", "color": "independent"}, "axis": {"x": "independent", "y": "independent"}, "legend": {"color": "independent"}}
}
